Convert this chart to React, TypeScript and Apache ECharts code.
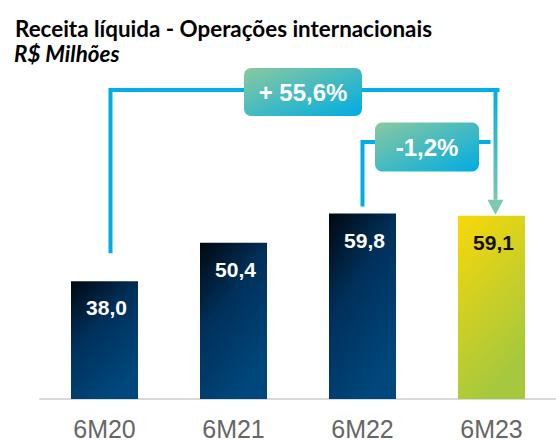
import React, { useEffect, useRef } from "react";
import * as echarts from "echarts";

const categories = ["6M20", "6M21", "6M22", "6M23"];
const values = [38.0, 50.4, 59.8, 59.1];
const valueLabels = ["38,0", "50,4", "59,8", "59,1"];
const changeLabels = ["+ 55,6%", "-1,2%"];

export default function App() {
  const ref = useRef<HTMLDivElement>(null);
  useEffect(() => {
    document.body.style.margin = "0";
    const chart = echarts.init(ref.current!, null, { renderer: "svg" });
    const dark = new echarts.graphic.LinearGradient(0, 0, 0.55, 1, [
      { offset: 0, color: "#000810" },
      { offset: 0.45, color: "#00305a" },
      { offset: 1, color: "#00477c" },
    ]);
    const yellow = new echarts.graphic.LinearGradient(0, 0, 0.4, 1, [
      { offset: 0, color: "#f8d808" },
      { offset: 1, color: "#a6c83e" },
    ]);
    chart.setOption({
      animation: false,
      title: [
        {
          text: "Receita líquida - Operações internacionais",
          left: 10,
          top: 12,
          textStyle: { fontFamily: "Lato", fontWeight: "bold", fontSize: 22.4, color: "#000" },
        },
        {
          text: "R$ Milhões",
          left: 9,
          top: 37,
          textStyle: { fontFamily: "Lato", fontWeight: "bold", fontStyle: "italic", fontSize: 22.4, color: "#000" },
        },
      ],
      grid: { left: 40, right: -12, top: 89, bottom: 41 },
      xAxis: {
        type: "category",
        data: categories,
        axisLine: { lineStyle: { color: "#d9d9d9", width: 2 } },
        axisTick: { show: false },
        axisLabel: { fontFamily: "Liberation Sans", fontSize: 25, color: "#666666", margin: 17 },
      },
      yAxis: { type: "value", min: 0, max: 100, show: false, splitLine: { show: false } },
      series: [
        {
          type: "bar",
          barWidth: 67,
          data: values.map((v, i) => ({
            value: v,
            itemStyle: { color: i === 3 ? yellow : dark },
            label: { color: i === 3 ? "#111" : "#fff" },
          })),
          label: {
            show: true,
            position: "insideTop",
            distance: 16,
            offset: [2, 0],
            fontFamily: "Liberation Sans",
            fontWeight: "bold",
            fontSize: 21,
            formatter: (p: any) => valueLabels[p.dataIndex],
          },
        },
      ],
    });

    const px = (i: number) => chart.convertToPixel({ gridIndex: 0 }, [i, values[i]]) as number[];
    const p0 = px(0), p2 = px(2), p3 = px(3);
    const blue = "#00aee6";
    const teal = "#7dc8ae";
    const y1 = 90, y2 = 142;
    const x0 = p0[0] + 6, x2 = p2[0], x3 = p3[0] + 4;
    const boxGrad = new echarts.graphic.LinearGradient(0, 0, 1, 1, [
      { offset: 0, color: "#8ac9a0" },
      { offset: 1, color: "#00acE2" },
    ]);
    const box = (cx: number, cy: number, w: number, h: number, text: string) => [
      {
        type: "rect",
        shape: { x: cx - w / 2, y: cy - h / 2, width: w, height: h, r: 7 },
        style: { fill: boxGrad },
        z: 10,
      },
      {
        type: "text",
        x: cx,
        y: cy,
        style: {
          text,
          fill: "#fff",
          fontFamily: "Liberation Sans",
          fontWeight: "bold",
          fontSize: 24,
          align: "center",
          verticalAlign: "middle",
        },
        z: 11,
      },
    ];
    chart.setOption({
      graphic: [
        {
          type: "polyline",
          shape: { points: [[x0, p0[1] - 28], [x0, y1], [x3 + 4, y1]] },
          style: { stroke: blue, lineWidth: 4, fill: "none" },
        },
        {
          type: "rect",
          shape: { x: x3 - 2, y: y1, width: 4, height: p3[1] - 16 - y1 },
          style: {
            fill: new echarts.graphic.LinearGradient(0, 0, 0, 1, [
              { offset: 0, color: blue },
              { offset: 1, color: teal },
            ]),
          },
        },
        {
          type: "polygon",
          shape: { points: [[x3 - 8, p3[1] - 16], [x3 + 8, p3[1] - 16], [x3, p3[1] - 1]] },
          style: { fill: teal },
        },
        {
          type: "polyline",
          shape: { points: [[x2, p2[1] - 7], [x2, y2], [x3 - 5, y2]] },
          style: { stroke: blue, lineWidth: 4, fill: "none" },
        },
        ...box((x0 + x3) / 2, y1 + 2, 118, 48, changeLabels[0]),
        ...box((x2 + x3) / 2 - 2, y2 + 5, 104, 49, changeLabels[1]),
      ],
    });
    return () => chart.dispose();
  }, []);
  return <div ref={ref} style={{ width: 556, height: 441 }} />;
}
